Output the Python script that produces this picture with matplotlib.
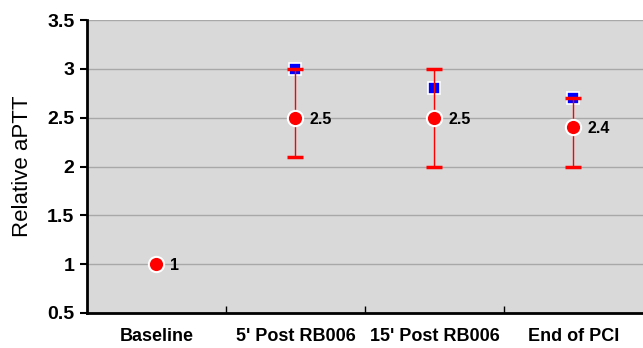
import numpy as np
import matplotlib
matplotlib.use('Agg')
import matplotlib.pyplot as plt

# ---------- DATA ----------
categories = ['Baseline', "5' Post RB006", "15' Post RB006", 'End of PCI']
mean_vals = [1.0, 2.5, 2.5, 2.4]
upper_vals = [1.0, 3.0, 3.0, 2.7]
lower_vals = [1.0, 2.1, 2.0, 2.0]
square_vals = [1.0, 3.0, 2.8, 2.7]
labels = ['1', '2.5', '2.5', '2.4']

plt.rcParams['font.family'] = ['Liberation Sans', 'DejaVu Sans']

x = np.arange(len(categories))
mean = np.array(mean_vals)
yerr = np.array([mean - np.array(lower_vals), np.array(upper_vals) - mean])

fig = plt.figure(figsize=(6.43, 3.48), dpi=100)
ax = fig.add_axes([0.1353, 0.1006, 0.8647, 0.8419])
ax.set_facecolor('#D9D9D9')

# gridlines
ax.yaxis.grid(True, color='#A8A8A8', linewidth=1)
ax.set_axisbelow(True)

# blue squares (behind error bars)
ax.plot(x[1:], square_vals[1:], linestyle='none', marker='s', markersize=8,
        markerfacecolor='#0000FF', markeredgecolor='white', markeredgewidth=1.2, zorder=3)

# error bars
ax.errorbar(x[1:], mean[1:], yerr=yerr[:, 1:], fmt='none', ecolor='#FF0000',
            elinewidth=1, capsize=6, capthick=2.5, zorder=4)

# red circles
ax.plot(x, mean, linestyle='none', marker='o', markersize=11,
        markerfacecolor='#FF0000', markeredgecolor='white', markeredgewidth=1.5, zorder=5)

# value labels
for xi, yi, lab in zip(x, mean, labels):
    ax.annotate(lab, (xi, yi), xytext=(10, -1), textcoords='offset points',
                ha='left', va='center', fontsize=11.5, fontweight='bold', zorder=6)

ax.set_xlim(-0.5, 3.5)
ax.set_ylim(0.5, 3.5)
ax.set_yticks([0.5, 1, 1.5, 2, 2.5, 3, 3.5])
ax.set_yticklabels(['0.5', '1', '1.5', '2', '2.5', '3', '3.5'], fontsize=14, fontweight='bold')
ax.set_xticks(x)
ax.set_xticklabels(categories, fontsize=13, fontweight='bold')
ax.tick_params(axis='x', length=0, pad=11)
ax.set_xticks([0.5, 1.5, 2.5], minor=True)
ax.tick_params(axis='x', which='minor', direction='in', length=5, width=1)
ax.tick_params(axis='y', direction='out', length=5, width=1.5, pad=4)

ax.set_ylabel('Relative aPTT', fontsize=16, labelpad=10)

for side in ['top', 'right']:
    ax.spines[side].set_visible(False)
for side in ['left', 'bottom']:
    ax.spines[side].set_linewidth(2)

plt.savefig('out.png', dpi=100)
